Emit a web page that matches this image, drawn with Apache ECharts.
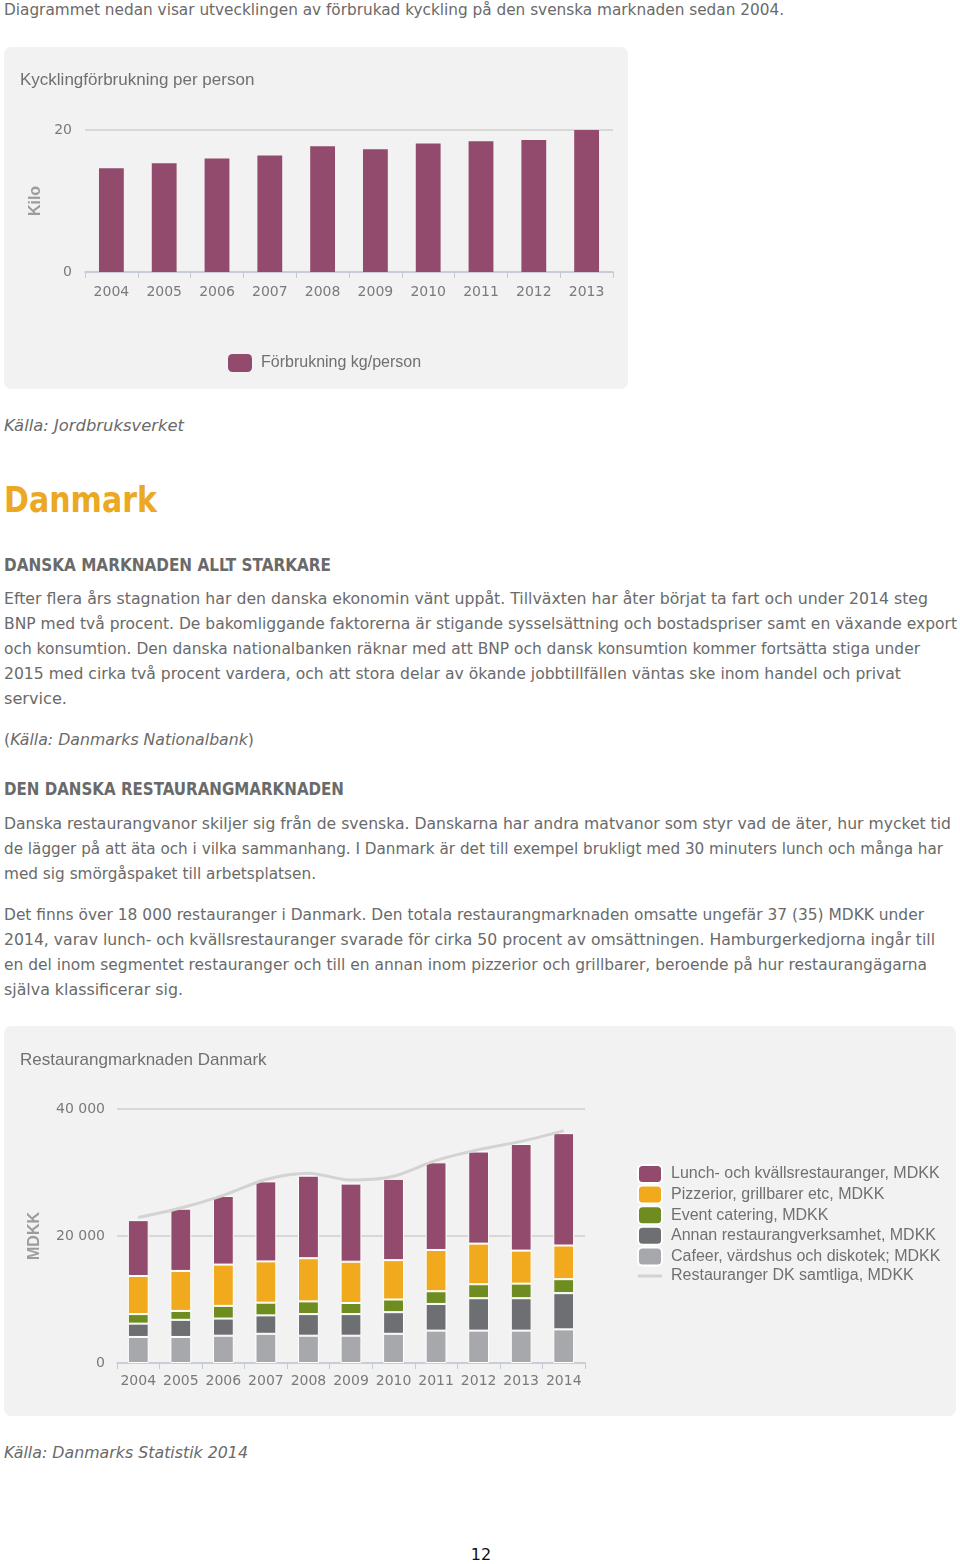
<!DOCTYPE html>
<html>
<head>
<meta charset="utf-8">
<script src="https://cdn.jsdelivr.net/npm/echarts@6/dist/echarts.min.js"></script>
<style>
  html, body { margin: 0; padding: 0; background: #fff; }
  body { width: 960px; height: 1564px; position: relative; overflow: hidden;
         font-family: "DejaVu Sans Condensed", "DejaVu Sans", sans-serif; color: #6a6a6a; }
  .ln { position: absolute; left: 4px; white-space: nowrap; font-size: 15px; line-height: 20px; transform-origin: 0 50%; }
  .it { font-style: italic; }
  .h1 { font-weight: bold; font-size: 36px; line-height: 44px; color: #eba823; }
  .h2 { font-weight: bold; font-size: 17px; line-height: 22px; color: #6a6a6a; }
  .panel { position: absolute; background: #f2f2f2; border-radius: 8px; overflow: hidden; }
  #pg { position: absolute; left: 0; width: 962px; top: 1545px; text-align: center; font-size: 16px; color: #111; font-family: "DejaVu Sans", sans-serif; }
</style>
</head>
<body>
<div class="ln" data-r="784" style="top:0px">Diagrammet nedan visar utvecklingen av förbrukad kyckling på den svenska marknaden sedan 2004.</div>
<div class="panel" id="c1" style="left:4px; top:47px; width:624px; height:342px;"></div>
<div class="ln it" data-r="184" style="top:416px">Källa: Jordbruksverket</div>
<div class="ln h1" data-r="157" style="top:478px">Danmark</div>
<div class="ln h2" data-r="331" style="top:554px">DANSKA MARKNADEN ALLT STARKARE</div>
<div class="ln" data-r="928" style="top:589px">Efter flera års stagnation har den danska ekonomin vänt uppåt. Tillväxten har åter börjat ta fart och under 2014 steg</div>
<div class="ln" data-r="957" style="top:614px">BNP med två procent. De bakomliggande faktorerna är stigande sysselsättning och bostadspriser samt en växande export</div>
<div class="ln" data-r="920" style="top:639px">och konsumtion. Den danska nationalbanken räknar med att BNP och dansk konsumtion kommer fortsätta stiga under</div>
<div class="ln" data-r="901" style="top:664px">2015 med cirka två procent vardera, och att stora delar av ökande jobbtillfällen väntas ske inom handel och privat</div>
<div class="ln" data-r="67" style="top:689px">service.</div>
<div class="ln" data-r="254" style="top:730px">(<span class="it">Källa: Danmarks Nationalbank</span>)</div>
<div class="ln h2" data-r="344" style="top:778px">DEN DANSKA RESTAURANGMARKNADEN</div>
<div class="ln" data-r="951" style="top:814px">Danska restaurangvanor skiljer sig från de svenska. Danskarna har andra matvanor som styr vad de äter, hur mycket tid</div>
<div class="ln" data-r="943" style="top:839px">de lägger på att äta och i vilka sammanhang. I Danmark är det till exempel brukligt med 30 minuters lunch och många har</div>
<div class="ln" data-r="316" style="top:864px">med sig smörgåspaket till arbetsplatsen.</div>
<div class="ln" data-r="924" style="top:905px">Det finns över 18 000 restauranger i Danmark. Den totala restaurangmarknaden omsatte ungefär 37 (35) MDKK under</div>
<div class="ln" data-r="935" style="top:930px">2014, varav lunch- och kvällsrestauranger svarade för cirka 50 procent av omsättningen. Hamburgerkedjorna ingår till</div>
<div class="ln" data-r="927" style="top:955px">en del inom segmentet restauranger och till en annan inom pizzerior och grillbarer, beroende på hur restaurangägarna</div>
<div class="ln" data-r="183" style="top:980px">själva klassificerar sig.</div>
<div class="panel" id="c2" style="left:4px; top:1026px; width:952px; height:390px;"></div>
<div class="ln it" data-r="248" style="top:1443px">Källa: Danmarks Statistik 2014</div>
<div id="pg">12</div>

<script>
// ---- Data: chart 1 (Kycklingförbrukning per person, kg) ----
const years1 = ['2004','2005','2006','2007','2008','2009','2010','2011','2012','2013'];
const kgPerPerson = [14.6, 15.3, 16.0, 16.4, 17.7, 17.3, 18.1, 18.4, 18.6, 20.0];

// ---- Data: chart 2 (Restaurangmarknaden Danmark, MDKK) ----
const years2 = ['2004','2005','2006','2007','2008','2009','2010','2011','2012','2013','2014'];
const lunch  = [8800, 9800, 10800, 12600, 13000, 12300, 12800, 13800, 14500, 16800, 17700];
const pizz   = [6000, 6300, 6500, 6500, 6800, 6500, 6200, 6500, 6400, 5200, 5300];
const eventC = [1500, 1400, 2000, 2000, 2000, 1750, 2000, 2000, 2200, 2300, 2200];
const annan  = [2100, 2700, 2700, 2900, 3400, 3400, 3400, 4200, 5100, 5100, 5700];
const cafe   = [4100, 4100, 4300, 4600, 4300, 4300, 4600, 5100, 5100, 5100, 5300];
const total  = [22900, 24400, 26400, 28900, 29900, 28800, 29400, 31900, 33600, 34900, 36600];

// fit text lines to reference widths
document.querySelectorAll('.ln[data-r]').forEach(el => {
  const target = parseFloat(el.dataset.r) - 4;
  const w = el.getBoundingClientRect().width;
  if (w > 0) el.style.transform = 'scaleX(' + (target / w) + ')';
});

const numFont = '"DejaVu Sans", sans-serif';
const txtFont = '"Liberation Sans", Arial, sans-serif';
const axisCol = '#c3c9d6';

const c1 = echarts.init(document.getElementById('c1'));
c1.setOption({
  backgroundColor: '#f2f2f2',
  animation: false,
  title: { text: 'Kycklingförbrukning per person', left: 11, top: 20,
           textStyle: { fontFamily: txtFont, fontSize: 17, fontWeight: 'normal', color: '#707070' } },
  legend: { left: 224, top: 307, padding: 0, itemWidth: 24, itemHeight: 18, icon: 'roundRect',
            textStyle: { fontFamily: txtFont, fontSize: 16, lineHeight: 18, color: '#707070', padding: [0,0,0,4] },
            data: ['Förbrukning kg/person'] },
  grid: { left: 81, right: 15, top: 83, bottom: 117 },
  xAxis: { type: 'category', data: years1,
           axisLine: { lineStyle: { color: axisCol, width: 1.5 } },
           axisTick: { show: true, length: 6, lineStyle: { color: axisCol } },
           axisLabel: { interval: 0, fontFamily: numFont, fontSize: 14, color: '#7a7a7a', margin: 13 } },
  yAxis: { type: 'value', min: 0, max: 20, interval: 20,
           name: 'Kilo', nameLocation: 'middle', nameGap: 41,
           nameTextStyle: { fontFamily: txtFont, fontSize: 16, fontWeight: 'bold', color: '#9c9c9c' },
           axisLabel: { fontFamily: numFont, fontSize: 14, color: '#7a7a7a', margin: 13 },
           splitLine: { lineStyle: { color: '#cfcfcf', width: 1.5 } } },
  series: [{ name: 'Förbrukning kg/person', type: 'bar', data: kgPerPerson, barWidth: '47%',
             itemStyle: { color: '#924b6d' } }]
});

const c2 = echarts.init(document.getElementById('c2'));
const barStyle = (c) => ({ color: c, borderColor: '#ffffff', borderWidth: 1 });
c2.setOption({
  backgroundColor: '#f2f2f2',
  animation: false,
  title: { text: 'Restaurangmarknaden Danmark', left: 11, top: 21,
           textStyle: { fontFamily: txtFont, fontSize: 17, fontWeight: 'normal', color: '#707070' } },
  legend: { orient: 'vertical', left: 633, top: 138, padding: 0, itemWidth: 24, itemHeight: 18, itemGap: 0.6,
            textStyle: { fontFamily: txtFont, fontSize: 16, lineHeight: 18, color: '#707070', padding: [0,0,0,4] },
            data: [
              { name: 'Lunch- och kvällsrestauranger, MDKK', icon: 'roundRect' },
              { name: 'Pizzerior, grillbarer etc, MDKK', icon: 'roundRect' },
              { name: 'Event catering, MDKK', icon: 'roundRect' },
              { name: 'Annan restaurangverksamhet, MDKK', icon: 'roundRect' },
              { name: 'Cafeer, värdshus och diskotek; MDKK', icon: 'roundRect' },
              { name: 'Restauranger DK samtliga, MDKK', icon: 'path://M0,0 L24,0 L24,3 L0,3 Z' }
            ] },
  grid: { left: 113, right: 371, top: 83, bottom: 53 },
  xAxis: { type: 'category', data: years2,
           axisLine: { lineStyle: { color: axisCol, width: 1.5 } },
           axisTick: { show: true, length: 6, lineStyle: { color: axisCol } },
           axisLabel: { interval: 0, fontFamily: numFont, fontSize: 14, color: '#7a7a7a', margin: 11 } },
  yAxis: { type: 'value', min: 0, max: 40000, interval: 20000,
           name: 'MDKK', nameLocation: 'middle', nameGap: 74,
           nameTextStyle: { fontFamily: txtFont, fontSize: 16, fontWeight: 'bold', color: '#9c9c9c' },
           axisLabel: { fontFamily: numFont, fontSize: 14, color: '#7a7a7a', margin: 12,
                        formatter: v => v === 0 ? '0' : String(v).replace(/\B(?=(\d{3})+(?!\d))/g, ' ') },
           splitLine: { lineStyle: { color: '#cfcfcf', width: 1.5 } } },
  series: [
    { name: 'Cafeer, värdshus och diskotek; MDKK', type: 'bar', stack: 's', barWidth: '49%', data: cafe, itemStyle: barStyle('#a7a8ac') },
    { name: 'Annan restaurangverksamhet, MDKK', type: 'bar', stack: 's', data: annan, itemStyle: barStyle('#6e6f73') },
    { name: 'Event catering, MDKK', type: 'bar', stack: 's', data: eventC, itemStyle: barStyle('#6f8c21') },
    { name: 'Pizzerior, grillbarer etc, MDKK', type: 'bar', stack: 's', data: pizz, itemStyle: barStyle('#f1a91d') },
    { name: 'Lunch- och kvällsrestauranger, MDKK', type: 'bar', stack: 's', data: lunch, itemStyle: barStyle('#924b6d') },
    { name: 'Restauranger DK samtliga, MDKK', type: 'line', data: total, smooth: 0.3, symbol: 'none',
      lineStyle: { color: '#d3d3d3', width: 3 }, itemStyle: { color: '#d3d3d3' }, z: 5 }
  ]
});
</script>
</body>
</html>
